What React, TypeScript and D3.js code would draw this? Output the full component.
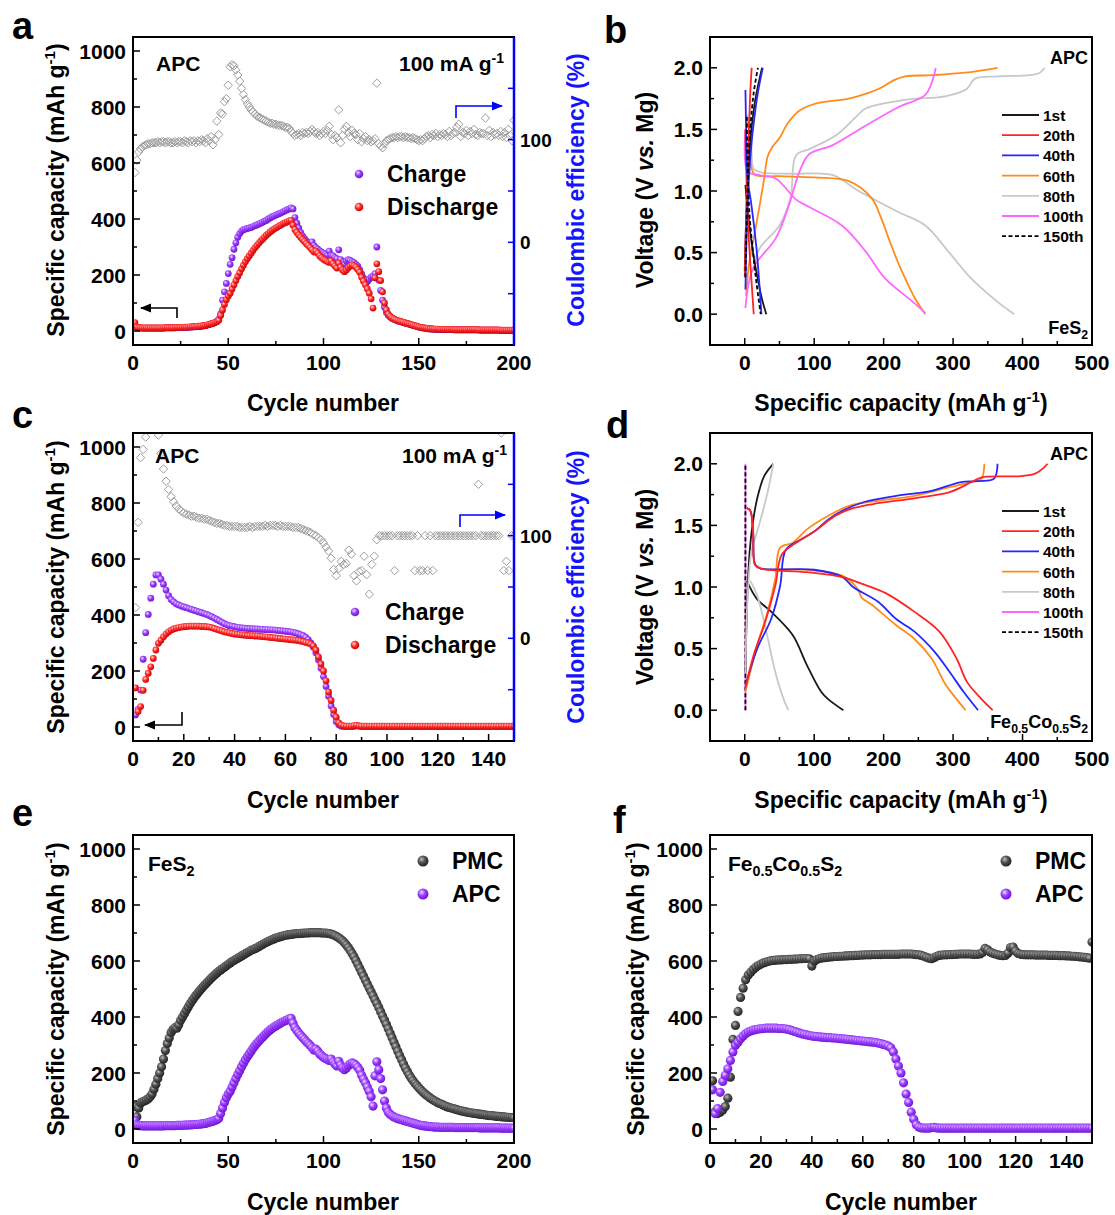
import React from 'react';
import * as d3 from 'd3';

const FONT = '"Liberation Sans", Arial, Helvetica, sans-serif';

// ---------- Panel a (FeS2, APC, 200 cycles) ----------
const disA = [30,14,12,12,11,11,11,11,11,11,
11,11,11,11,11,11,12,12,12,12,
12,12,13,13,13,13,14,14,14,15,
15,16,16,17,17,18,19,20,22,24,
26,28,30,33,38,55,75,95,112,125,
135,150,165,180,195,208,222,235,247,258,
268,278,288,297,305,313,321,328,335,342,
348,354,359,364,368,372,376,380,384,387,
390,393,395,378,362,352,343,335,327,320,
312,305,298,290,282,285,278,268,262,256,
252,248,245,250,240,232,225,242,228,218,
212,218,226,232,236,233,228,220,210,192,
178,165,150,135,115,82,190,240,212,180,
140,100,75,60,52,47,43,40,37,35,
33,31,29,27,25,23,21,19,17,15,
13,12,11,10,9,8,8,7,7,7,
6,6,6,6,6,6,6,6,5,5,
5,5,5,5,5,5,5,5,5,5,
5,4,4,4,4,4,4,4,4,4,
4,4,3,3,3,3,3,3,3,3];

const chgA = [20,12,11,11,10,10,10,10,10,10,
10,10,10,10,10,10,11,11,11,11,
11,11,12,12,12,12,13,13,13,14,
14,15,15,16,16,17,18,19,21,23,
25,27,30,34,42,62,110,140,170,205,
238,262,292,315,335,348,357,362,364,366,
368,370,373,376,379,382,385,388,392,395,
400,404,408,411,414,417,420,423,426,430,
433,436,440,436,405,385,368,352,340,330,
322,315,310,318,305,298,292,286,282,278,
275,272,285,270,268,262,258,290,255,245,
238,250,255,252,248,244,238,232,218,204,
190,182,176,185,192,196,205,300,182,145,
110,85,66,56,50,45,42,39,36,34,
32,30,28,26,24,22,20,18,16,14,
12,11,10,9,8,7,7,6,6,6,
5,5,5,5,5,5,5,5,4,4,
4,4,4,4,4,4,4,4,4,4,
4,3,3,3,3,3,3,3,3,3,
3,3,2,2,2,2,2,2,2,2];

const ceA = [68,80,88,91,93,94,95,96,96,97,
97,97,98,97,98,98,97,98,98,97,
97,98,97,98,98,97,99,98,97,99,
98,99,97,99,98,100,99,97,101,99,
103,95,100,118,105,126,125,137,140,153,
171,173,172,168,163,157,150,144,139,135,
132,129,127,125,123,122,121,120,119,118,
117,116,116,115,115,114,114,114,113,112,
112,111,108,106,104,105,106,104,107,106,
107,106,108,110,108,106,107,104,106,108,
106,109,113,105,100,104,102,129,97,104,
110,113,107,103,109,106,105,100,106,98,
101,103,99,100,98,99,101,155,96,94,
92,96,99,100,101,102,102,103,102,103,
103,102,103,102,102,101,102,101,100,99,
100,99,101,103,104,102,105,104,106,103,
105,104,106,105,103,108,104,106,107,112,
115,103,107,106,109,104,108,106,110,105,
104,107,106,106,121,104,109,103,107,105,
106,104,108,103,107,102,110,104,99,119];

// ---------- Panel c (Fe0.5Co0.5S2, APC, 150 cycles) ----------
const disC = [140,55,73,131,170,192,215,245,275,299,
310,322,332,340,346,350,353,355,357,358,
359,360,360,360,360,360,359,359,358,357,
355,352,349,346,343,340,338,336,334,332,
331,330,329,328,327,326,326,325,325,324,
323,322,321,320,319,318,317,316,315,314,
313,312,311,310,309,307,305,302,300,296,
290,275,250,225,200,165,125,95,60,35,
15,7,4,3,3,3,5,6,4,3,
3,3,3,3,3,3,3,3,3,3,
3,3,3,3,3,3,3,3,3,3,
3,3,3,3,3,3,3,3,3,3,
3,3,3,3,3,3,3,3,3,3,
3,3,3,3,3,3,3,3,3,3,
3,3,3,3,3,3,3,3,3,3];

const chgC = [43,63,132,242,337,402,460,510,543,543,
528,510,489,469,455,447,440,436,432,429,
426,423,420,417,414,411,408,405,402,398,
394,389,384,379,374,369,365,362,360,358,
356,355,354,353,352,351,351,350,350,349,
349,348,348,347,347,346,345,344,343,342,
341,340,338,336,333,330,326,320,312,300,
285,265,240,210,180,145,110,75,45,20,
8,3,2,2,2,2,2,5,3,2,
2,2,2,2,2,2,2,2,2,2,
2,2,2,2,2,2,2,2,2,2,
2,2,2,2,2,2,2,2,2,2,
2,2,2,2,2,2,2,2,2,2,
2,2,2,2,2,2,2,2,2,2,
2,2,2,2,2,2,2,2,2,2];

const ceC = [30,113,176,184,196,215,230,240,225,198,
180,165,153,145,138,133,129,126,124,122,
121,120,119,119,118,117,117,116,116,115,
114,113,112,112,111,110,110,109,109,109,
109,108,108,108,108,109,108,109,109,109,
109,110,109,110,110,110,109,110,109,109,
109,109,108,108,108,107,106,105,104,103,
101,100,98,96,93,89,85,78,67,61,
68,75,72,73,86,82,61,56,65,66,
80,62,43,72,80,96,100,100,100,100,
100,100,66,100,100,100,100,100,100,100,
66,100,66,66,100,66,100,66,100,100,
100,100,100,100,100,100,100,100,100,100,
100,100,100,100,100,150,100,100,100,100,
100,100,100,100,200,66,75,66,100,100];

// ---------- Panel e (FeS2, PMC) ----------
const pmcE = [80,44,75,93,97,100,104,108,115,125,
142,160,180,200,222,250,280,305,325,345,
355,362,360,372,388,400,412,424,436,447,
458,468,477,486,494,502,510,517,524,531,
538,545,551,557,563,568,573,578,583,588,
593,598,602,606,610,614,618,622,626,630,
634,638,641,644,647,651,655,659,663,667,
670,673,676,679,682,684,686,688,690,692,
693,694,695,696,697,698,698,699,699,700,
700,700,701,701,701,701,701,701,700,700,
700,699,698,696,694,691,687,683,678,672,
665,657,648,638,627,615,602,588,574,560,
546,532,518,504,490,476,462,448,434,419,
404,389,374,358,342,326,310,294,278,262,
247,232,218,205,193,182,172,163,155,147,
140,133,127,121,116,111,106,102,98,94,
91,88,85,82,79,77,75,73,71,69,
67,65,64,62,61,59,58,57,56,55,
54,53,52,51,50,49,48,48,47,46,
45,45,44,43,43,42,42,41,41,40];

// ---------- Panel f (Fe0.5Co0.5S2, PMC) ----------
const pmcF = [172,62,55,60,68,80,110,185,320,370,
420,470,503,533,550,560,570,578,584,589,
593,596,599,601,602,603,604,604,605,605,
606,606,607,607,608,608,609,609,608,582,
600,605,609,611,612,613,614,615,616,616,
617,617,618,618,619,619,620,620,621,621,
622,622,622,623,623,623,623,624,624,624,
624,624,624,624,625,625,625,625,625,624,
623,622,620,617,613,610,608,612,617,620,
621,622,622,623,623,624,624,625,625,625,
625,625,624,624,624,625,630,645,640,632,
628,625,622,620,619,620,628,648,650,635,
627,624,623,622,622,622,622,621,621,621,
621,621,620,620,620,620,619,619,619,618,
618,617,617,616,615,614,613,612,610,668];

// ---------- Panel b voltage profiles (capacity, V) ----------
type Pt = [number, number];
const b1C: Pt[] = [[0,0.35],[3,0.9],[8,1.4],[14,1.7],[19,1.85],[25,2.0]];
const b1D: Pt[] = [[1,1.05],[5,0.8],[12,0.5],[20,0.25],[25,0.12],[31,0.0]];
const b20C: Pt[] = [[0,0.3],[3,1.0],[6,1.5],[8,1.8],[10,2.0]];
const b20D: Pt[] = [[1,1.5],[3,1.0],[6,0.6],[10,0.25],[13,0.0]];
const b40C: Pt[] = [[1,0.2],[3,0.7],[6,1.1],[10,1.4],[14,1.6],[19,1.8],[26,2.0]];
const b40D: Pt[] = [[1,1.82],[2,1.5],[3,1.2],[5,1.05],[8,0.95],[12,0.78],[17,0.53],[21,0.25],[24,0.0]];
const b60C: Pt[] = [[2,0.15],[6,0.4],[14,0.65],[22,0.9],[28,1.1],[33,1.28],[40,1.36],[50,1.43],[62,1.55],[78,1.65],[102,1.71],[150,1.75],[175,1.79],[197,1.84],[215,1.9],[231,1.93],[270,1.94],[317,1.96],[364,2.0]];
const b60D: Pt[] = [[4,1.6],[7,1.4],[10,1.18],[15,1.13],[50,1.12],[100,1.11],[150,1.08],[183,0.94],[195,0.8],[207,0.62],[220,0.43],[231,0.29],[245,0.13],[260,0.0]];
const b80C: Pt[] = [[12,0.35],[21,0.53],[50,0.72],[66,0.95],[74,1.29],[93,1.34],[131,1.45],[160,1.6],[174,1.67],[231,1.74],[290,1.77],[320,1.83],[331,1.91],[364,1.93],[410,1.94],[425,1.96],[432,2.0]];
const b80D: Pt[] = [[3,1.62],[8,1.55],[10,1.3],[13,1.18],[25,1.15],[70,1.14],[126,1.13],[164,1.0],[221,0.83],[260,0.72],[293,0.51],[326,0.29],[364,0.1],[388,0.0]];
const b100C: Pt[] = [[1,0.05],[12,0.37],[45,0.62],[64,0.89],[79,1.16],[93,1.3],[126,1.37],[174,1.53],[221,1.68],[260,1.78],[271,1.91],[275,2.0]];
const b100D: Pt[] = [[1,1.5],[4,1.16],[20,1.13],[45,1.1],[74,0.93],[93,0.87],[140,0.72],[174,0.51],[202,0.29],[240,0.11],[260,0.01]];
const b150C: Pt[] = [[1,0.3],[4,1.0],[8,1.5],[13,1.8],[19,2.0]];
const b150D: Pt[] = [[3,1.6],[4,1.2],[7,0.8],[12,0.5],[17,0.25],[23,0.0]];

// ---------- Panel d voltage profiles ----------
const d1C: Pt[] = [[1,0.3],[3,0.8],[6,1.2],[10,1.45],[18,1.72],[28,1.9],[41,2.0]];
const d1D: Pt[] = [[3,1.05],[18,0.9],[38,0.8],[69,0.61],[90,0.36],[110,0.15],[120,0.09],[142,0.0]];
const d20C: Pt[] = [[1,0.18],[13,0.45],[28,0.69],[44,1.01],[53,1.26],[69,1.34],[100,1.45],[131,1.58],[156,1.64],[192,1.68],[244,1.72],[295,1.77],[326,1.85],[341,1.89],[397,1.9],[418,1.92],[431,1.97],[436,2.0]];
const d20D: Pt[] = [[3,1.64],[8,1.62],[12,1.45],[15,1.18],[23,1.15],[90,1.12],[141,1.08],[167,1.03],[203,0.95],[244,0.8],[280,0.64],[305,0.42],[320,0.23],[341,0.09],[357,0.0]];
const d40C: Pt[] = [[1,0.2],[18,0.5],[38,0.74],[51,1.01],[59,1.3],[79,1.38],[100,1.45],[121,1.55],[141,1.62],[172,1.69],[218,1.74],[269,1.78],[310,1.85],[336,1.86],[359,1.88],[364,2.0]];
const d40D: Pt[] = [[3,1.64],[8,1.62],[12,1.45],[15,1.18],[23,1.15],[100,1.14],[141,1.08],[156,1.0],[192,0.88],[218,0.74],[244,0.64],[274,0.47],[295,0.31],[315,0.15],[336,0.0]];
const d60C: Pt[] = [[1,0.15],[18,0.53],[33,0.8],[44,1.07],[51,1.32],[69,1.36],[90,1.47],[121,1.58],[151,1.66],[192,1.7],[244,1.74],[295,1.81],[331,1.86],[341,1.88],[345,2.0]];
const d60D: Pt[] = [[3,1.64],[8,1.62],[12,1.45],[15,1.18],[23,1.15],[90,1.14],[141,1.09],[162,0.99],[169,0.91],[182,0.86],[218,0.69],[244,0.58],[269,0.42],[290,0.2],[305,0.09],[318,0.0]];
const d80C: Pt[] = [[1,0.3],[4,0.9],[10,1.3],[18,1.45],[33,1.77],[41,2.0]];
const d80D: Pt[] = [[8,1.05],[18,0.93],[31,0.64],[44,0.31],[56,0.09],[63,0.0]];
const d100C: Pt[] = [[1,0.0],[1,2.0]];
const d150C: Pt[] = [[1,0.0],[1,2.0]];

const legendCycles = ['1st','20th','40th','60th','80th','100th','150th'];
const cycleColors = ['#1a1a1a','#ff2424','#2626ff','#ff8c1a','#c8c8c8','#ff66ff','#000000'];

// ---------- layout ----------
const COLL = { l: 133, r: 514 };
const COLR = { l: 710, r: 1092 };
const ROW = [{ t: 37, b: 345 }, { t: 433, b: 741 }, { t: 835, b: 1143 }];
type G = { l: number; r: number; t: number; b: number };
const geo = (c: { l: number; r: number }, r: { t: number; b: number }): G => ({ l: c.l, r: c.r, t: r.t, b: r.b });

const gA = geo(COLL, ROW[0]), gB = geo(COLR, ROW[0]);
const gC = geo(COLL, ROW[1]), gD = geo(COLR, ROW[1]);
const gE = geo(COLL, ROW[2]), gF = geo(COLR, ROW[2]);

const TICK = { fontFamily: FONT, fontWeight: 700, fontSize: 21, fill: '#000' } as const;
const TITLE = { fontFamily: FONT, fontWeight: 700, fontSize: 23, fill: '#000' } as const;

function Axes({ g, x, y, xMajor, xMinor, yMajor, yMinor, fx, fy, right }: any) {
  const T = 7, t = 4;
  return (
    <g>
      {xMinor.map((v: number) => (
        <line key={'xm' + v} x1={x(v)} x2={x(v)} y1={g.b} y2={g.b - t} stroke="#000" strokeWidth={1.5} />
      ))}
      {xMajor.map((v: number) => (
        <g key={'xM' + v}>
          <line x1={x(v)} x2={x(v)} y1={g.b} y2={g.b - T} stroke="#000" strokeWidth={1.5} />
          <text x={x(v)} y={g.b + 25} textAnchor="middle" {...TICK}>{fx(v)}</text>
        </g>
      ))}
      {yMinor.map((v: number) => (
        <line key={'ym' + v} x1={g.l} x2={g.l + t} y1={y(v)} y2={y(v)} stroke="#000" strokeWidth={1.5} />
      ))}
      {yMajor.map((v: number) => (
        <g key={'yM' + v}>
          <line x1={g.l} x2={g.l + T} y1={y(v)} y2={y(v)} stroke="#000" strokeWidth={1.5} />
          <text x={g.l - 7} y={y(v) + 7.5} textAnchor="end" {...TICK}>{fy(v)}</text>
        </g>
      ))}
      <rect x={g.l} y={g.t} width={g.r - g.l} height={g.b - g.t} fill="none" stroke="#000" strokeWidth={2} />
      {right && (
        <g>
          <line x1={g.r} x2={g.r} y1={g.t} y2={g.b} stroke="#0000ff" strokeWidth={2.5} />
          {[-50, 0, 50, 100, 150].map((v) => (
            <line key={'r' + v} x1={g.r} x2={g.r - 6} y1={right(v)} y2={right(v)} stroke="#0000ff" strokeWidth={1.5} />
          ))}
          {[0, 100].map((v) => (
            <text key={'rl' + v} x={g.r + 6} y={right(v) + 7} fontFamily={FONT} fontWeight={700} fontSize={19} fill="#000">{v}</text>
          ))}
        </g>
      )}
    </g>
  );
}

function Spheres({ data, x, y, r, fill, clip }: any) {
  return (
    <g clipPath={`url(#${clip})`}>
      {data.map((v: number, i: number) => (
        <circle key={i} cx={x(i + 1)} cy={y(v)} r={r} fill={fill} />
      ))}
    </g>
  );
}

function Diamonds({ data, x, y, clip }: any) {
  return (
    <g clipPath={`url(#${clip})`}>
      {data.map((v: number, i: number) => (
        <path key={i} d="M0,-4.2L4.2,0L0,4.2L-4.2,0Z" transform={`translate(${x(i + 1)},${y(v)})`} fill="none" stroke="#9c9c9c" strokeWidth={1} />
      ))}
    </g>
  );
}

function YTitleCap({ x, y }: { x: number; y: number }) {
  return (
    <text transform={`translate(${x},${y}) rotate(-90)`} textAnchor="middle" {...TITLE}>
      Specific capacity (mAh g<tspan dy={-9} fontSize={15}>-1</tspan><tspan dy={9}>)</tspan>
    </text>
  );
}

function CETitle({ x, y }: { x: number; y: number }) {
  return (
    <text transform={`translate(${x},${y}) rotate(-90)`} textAnchor="middle" fontFamily={FONT} fontWeight={700} fontSize={23} fill="#1414ff">
      Coulombic efficiency (%)
    </text>
  );
}

function VoltTitle({ x, y }: { x: number; y: number }) {
  return (
    <text transform={`translate(${x},${y}) rotate(-90)`} textAnchor="middle" {...TITLE}>
      Voltage (V <tspan fontStyle="italic">vs.</tspan> Mg)
    </text>
  );
}

function XTitleCap({ x, y }: { x: number; y: number }) {
  return (
    <text x={x} y={y} textAnchor="middle" {...TITLE}>
      Specific capacity (mAh g<tspan dy={-9} fontSize={15}>-1</tspan><tspan dy={9}>)</tspan>
    </text>
  );
}

function FeCo({ x, y, size, anchor }: any) {
  const s = size * 0.68;
  return (
    <text x={x} y={y} textAnchor={anchor || 'start'} fontFamily={FONT} fontWeight={700} fontSize={size} fill="#000">
      Fe<tspan dy={5} fontSize={s}>0.5</tspan><tspan dy={-5}>Co</tspan><tspan dy={5} fontSize={s}>0.5</tspan><tspan dy={-5}>S</tspan><tspan dy={5} fontSize={s}>2</tspan>
    </text>
  );
}

function FeS2({ x, y, size, anchor }: any) {
  return (
    <text x={x} y={y} textAnchor={anchor || 'start'} fontFamily={FONT} fontWeight={700} fontSize={size} fill="#000">
      FeS<tspan dy={5} fontSize={size * 0.68}>2</tspan>
    </text>
  );
}

function Arrow({ d, color, id }: any) {
  return <path d={d} fill="none" stroke={color} strokeWidth={1.6} markerEnd={`url(#${id})`} />;
}

function VoltPanel({ g, curves, clip, label }: any) {
  const x = d3.scaleLinear().domain([-50, 500]).range([g.l, g.r]);
  const y = d3.scaleLinear().domain([-0.25, 2.25]).range([g.b, g.t]);
  const line = d3.line<Pt>().x((p) => x(p[0])).y((p) => y(p[1])).curve(d3.curveCatmullRom.alpha(0.5));
  return (
    <g>
      <g clipPath={`url(#${clip})`}>
        {curves.map((c: any, i: number) => (
          <path key={i} d={line(c.pts) || ''} fill="none" stroke={c.color} strokeWidth={1.8} strokeDasharray={c.dash || null} />
        ))}
      </g>
      <Axes g={g} x={x} y={y} xMajor={[0, 100, 200, 300, 400, 500]} xMinor={[-50, 50, 150, 250, 350, 450]}
        yMajor={[0, 0.5, 1.0, 1.5, 2.0]} yMinor={[-0.25, 0.25, 0.75, 1.25, 1.75, 2.25]}
        fx={(v: number) => String(v)} fy={(v: number) => v.toFixed(1)} />
      {legendCycles.map((lab, i) => (
        <g key={lab}>
          <line x1={1002} x2={1039} y1={g.t + 78 + i * 20.2} y2={g.t + 78 + i * 20.2} stroke={cycleColors[i]} strokeWidth={1.8} strokeDasharray={i === 6 ? '4,2.5' : null} />
          <text x={1043} y={g.t + 84 + i * 20.2} fontFamily={FONT} fontWeight={700} fontSize={15.5} fill="#000">{lab}</text>
        </g>
      ))}
      <text x={1088} y={g.t + 27} textAnchor="end" fontFamily={FONT} fontWeight={700} fontSize={18} fill="#000">APC</text>
      {label}
    </g>
  );
}

export default function App() {
  const xa = d3.scaleLinear().domain([0, 200]).range([gA.l, gA.r]);
  const xc = d3.scaleLinear().domain([0, 150]).range([gC.l, gC.r]);
  const xe = d3.scaleLinear().domain([0, 200]).range([gE.l, gE.r]);
  const xf = d3.scaleLinear().domain([0, 150]).range([gF.l, gF.r]);
  const capY = (g: G) => d3.scaleLinear().domain([-50, 1050]).range([g.b, g.t]);
  const ceY = (g: G) => d3.scaleLinear().domain([-100, 200]).range([g.b, g.t]);
  const ya = capY(gA), yc = capY(gC), ye = capY(gE), yf = capY(gF);
  const ra = ceY(gA), rc = ceY(gC);
  const yMaj = [0, 200, 400, 600, 800, 1000];
  const yMin = [100, 300, 500, 700, 900];
  const fmt = (v: number) => String(v);

  const curvesB = [
    { pts: b80C, color: cycleColors[4] }, { pts: b80D, color: cycleColors[4] },
    { pts: b60C, color: cycleColors[3] }, { pts: b60D, color: cycleColors[3] },
    { pts: b100C, color: cycleColors[5] }, { pts: b100D, color: cycleColors[5] },
    { pts: b1C, color: cycleColors[0] }, { pts: b1D, color: cycleColors[0] },
    { pts: b20C, color: cycleColors[1] }, { pts: b20D, color: cycleColors[1] },
    { pts: b40C, color: cycleColors[2] }, { pts: b40D, color: cycleColors[2] },
    { pts: b150C, color: cycleColors[6], dash: '4,2.5' }, { pts: b150D, color: cycleColors[6], dash: '4,2.5' },
  ];
  const curvesD = [
    { pts: d100C, color: cycleColors[5] },
    { pts: d150C, color: cycleColors[6], dash: '4,2.5' },
    { pts: d1C, color: cycleColors[0] }, { pts: d1D, color: cycleColors[0] },
    { pts: d80C, color: cycleColors[4] }, { pts: d80D, color: cycleColors[4] },
    { pts: d60C, color: cycleColors[3] }, { pts: d60D, color: cycleColors[3] },
    { pts: d40C, color: cycleColors[2] }, { pts: d40D, color: cycleColors[2] },
    { pts: d20C, color: cycleColors[1] }, { pts: d20D, color: cycleColors[1] },
  ];

  const letter = (s: string, x: number, y: number) => (
    <text x={x} y={y} fontFamily={FONT} fontWeight={700} fontSize={38} fill="#000">{s}</text>
  );
  const clips = [['cA', gA], ['cB', gB], ['cC', gC], ['cD', gD], ['cE', gE], ['cF', gF]] as [string, G][];

  return (
    <svg width={1115} height={1215} style={{ position: 'absolute', left: 0, top: 0, background: '#fff' }}>
      <defs>
        <radialGradient id="gP" cx="0.38" cy="0.35" r="0.7">
          <stop offset="0" stopColor="#eedcff" />
          <stop offset="0.45" stopColor="#9a3cff" />
          <stop offset="1" stopColor="#6a12c8" />
        </radialGradient>
        <radialGradient id="gR" cx="0.38" cy="0.35" r="0.7">
          <stop offset="0" stopColor="#ffd8d8" />
          <stop offset="0.45" stopColor="#ff2a2a" />
          <stop offset="1" stopColor="#c40000" />
        </radialGradient>
        <radialGradient id="gG" cx="0.38" cy="0.35" r="0.7">
          <stop offset="0" stopColor="#bdbdbd" />
          <stop offset="0.45" stopColor="#505050" />
          <stop offset="1" stopColor="#1e1e1e" />
        </radialGradient>
        <marker id="ak" viewBox="0 0 10 10" refX="9" refY="5" markerWidth="7" markerHeight="7" orient="auto">
          <path d="M0,1L10,5L0,9Z" fill="#000" />
        </marker>
        <marker id="ab" viewBox="0 0 10 10" refX="9" refY="5" markerWidth="7" markerHeight="7" orient="auto">
          <path d="M0,1L10,5L0,9Z" fill="#0000ff" />
        </marker>
        {clips.map(([id, g]) => (
          <clipPath id={id} key={id}>
            <rect x={g.l + 1} y={g.t + 1} width={g.r - g.l - 2} height={g.b - g.t - 2} />
          </clipPath>
        ))}
      </defs>

      {/* ---------- a ---------- */}
      <Diamonds data={ceA} x={xa} y={ra} clip="cA" />
      <Spheres data={chgA} x={xa} y={ya} r={3.4} fill="url(#gP)" clip="cA" />
      <Spheres data={disA} x={xa} y={ya} r={3.4} fill="url(#gR)" clip="cA" />
      <Axes g={gA} x={xa} y={ya} xMajor={[0, 50, 100, 150, 200]} xMinor={[25, 75, 125, 175]} yMajor={yMaj} yMinor={yMin} fx={fmt} fy={fmt} right={ra} />
      <text x={156} y={71} fontFamily={FONT} fontWeight={700} fontSize={21}>APC</text>
      <text x={504} y={71} textAnchor="end" fontFamily={FONT} fontWeight={700} fontSize={21}>100 mA g<tspan dy={-8} fontSize={14}>-1</tspan></text>
      <circle cx={359} cy={174} r={4.3} fill="url(#gP)" />
      <circle cx={359} cy={207} r={4.3} fill="url(#gR)" />
      <text x={387} y={182} {...TITLE}>Charge</text>
      <text x={387} y={215} {...TITLE}>Discharge</text>
      <Arrow d="M177,318 V308 H141" color="#000" id="ak" />
      <Arrow d="M456,118 V106 H502" color="#0000ff" id="ab" />
      <YTitleCap x={64} y={190} />
      <CETitle x={584} y={190} />
      <text x={323} y={411} textAnchor="middle" {...TITLE}>Cycle number</text>
      {letter('a', 12, 39)}

      {/* ---------- b ---------- */}
      <VoltPanel g={gB} curves={curvesB} clip="cB" label={<FeS2 x={1088} y={334} size={18} anchor="end" />} />
      <VoltTitle x={653} y={190} />
      <XTitleCap x={901} y={411} />
      {letter('b', 604, 43)}

      {/* ---------- c ---------- */}
      <Diamonds data={ceC} x={xc} y={rc} clip="cC" />
      <Spheres data={chgC} x={xc} y={yc} r={3.4} fill="url(#gP)" clip="cC" />
      <Spheres data={disC} x={xc} y={yc} r={3.4} fill="url(#gR)" clip="cC" />
      <Axes g={gC} x={xc} y={yc} xMajor={[0, 20, 40, 60, 80, 100, 120, 140]} xMinor={[10, 30, 50, 70, 90, 110, 130, 150]} yMajor={yMaj} yMinor={yMin} fx={fmt} fy={fmt} right={rc} />
      <text x={155} y={463} fontFamily={FONT} fontWeight={700} fontSize={21}>APC</text>
      <text x={507} y={463} textAnchor="end" fontFamily={FONT} fontWeight={700} fontSize={21}>100 mA g<tspan dy={-8} fontSize={14}>-1</tspan></text>
      <circle cx={355} cy={612} r={4.3} fill="url(#gP)" />
      <circle cx={355} cy={645} r={4.3} fill="url(#gR)" />
      <text x={385} y={620} {...TITLE}>Charge</text>
      <text x={385} y={653} {...TITLE}>Discharge</text>
      <Arrow d="M182,712 V725 H145" color="#000" id="ak" />
      <Arrow d="M460,527 V515 H505" color="#0000ff" id="ab" />
      <YTitleCap x={64} y={587} />
      <CETitle x={584} y={587} />
      <text x={323} y={808} textAnchor="middle" {...TITLE}>Cycle number</text>
      {letter('c', 12, 428)}

      {/* ---------- d ---------- */}
      <VoltPanel g={gD} curves={curvesD} clip="cD" label={<FeCo x={1088} y={728} size={18} anchor="end" />} />
      <VoltTitle x={653} y={587} />
      <XTitleCap x={901} y={808} />
      {letter('d', 606, 438)}

      {/* ---------- e ---------- */}
      <Spheres data={pmcE} x={xe} y={ye} r={4.6} fill="url(#gG)" clip="cE" />
      <Spheres data={disA} x={xe} y={ye} r={4.6} fill="url(#gP)" clip="cE" />
      <Axes g={gE} x={xe} y={ye} xMajor={[0, 50, 100, 150, 200]} xMinor={[25, 75, 125, 175]} yMajor={yMaj} yMinor={yMin} fx={fmt} fy={fmt} />
      <FeS2 x={148} y={871} size={21} />
      <circle cx={423} cy={861} r={5.5} fill="url(#gG)" />
      <circle cx={423} cy={894} r={5.5} fill="url(#gP)" />
      <text x={452} y={869} {...TITLE}>PMC</text>
      <text x={452} y={902} {...TITLE}>APC</text>
      <YTitleCap x={64} y={989} />
      <text x={323} y={1210} textAnchor="middle" {...TITLE}>Cycle number</text>
      {letter('e', 12, 826)}

      {/* ---------- f ---------- */}
      <Spheres data={pmcF} x={xf} y={yf} r={4.6} fill="url(#gG)" clip="cF" />
      <Spheres data={disC} x={xf} y={yf} r={4.6} fill="url(#gP)" clip="cF" />
      <Axes g={gF} x={xf} y={yf} xMajor={[0, 20, 40, 60, 80, 100, 120, 140]} xMinor={[10, 30, 50, 70, 90, 110, 130, 150]} yMajor={yMaj} yMinor={yMin} fx={fmt} fy={fmt} />
      <FeCo x={728} y={871} size={21} />
      <circle cx={1006} cy={861} r={5.5} fill="url(#gG)" />
      <circle cx={1006} cy={894} r={5.5} fill="url(#gP)" />
      <text x={1035} y={869} {...TITLE}>PMC</text>
      <text x={1035} y={902} {...TITLE}>APC</text>
      <YTitleCap x={644} y={989} />
      <text x={901} y={1210} textAnchor="middle" {...TITLE}>Cycle number</text>
      {letter('f', 613, 833)}
    </svg>
  );
}
